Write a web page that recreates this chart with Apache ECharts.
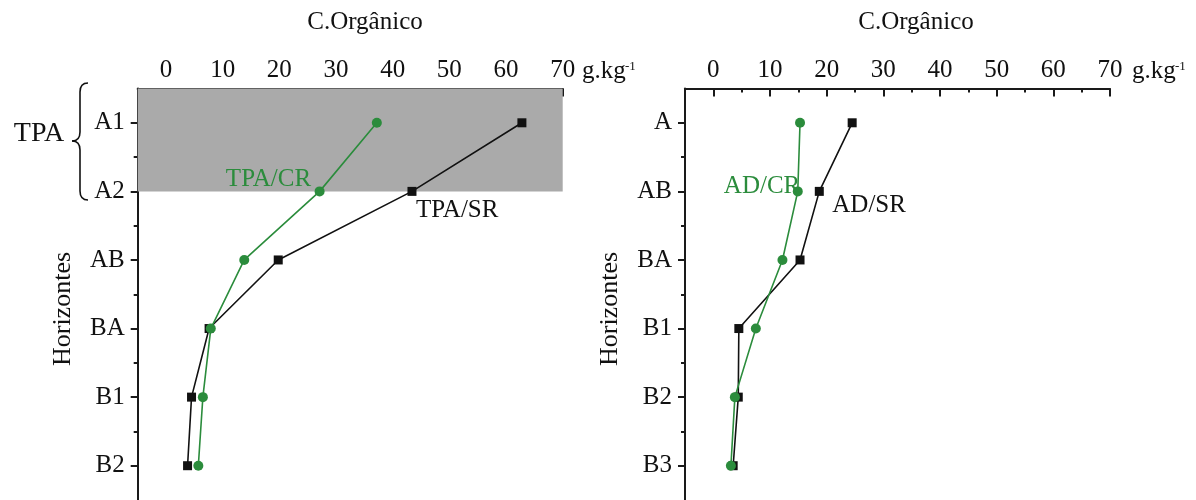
<!DOCTYPE html>
<html><head><meta charset="utf-8">
<script src="https://cdn.jsdelivr.net/npm/echarts@6/dist/echarts.min.js"></script>
<style>html,body{margin:0;padding:0;background:#fff}#c{width:1196px;height:500px}</style>
</head><body><div id="c"></div>
<script>
// ---------- data ----------
const leftCategories = ['A1', 'A2', 'AB', 'BA', 'B1', 'B2'];
const rightCategories = ['A', 'AB', 'BA', 'B1', 'B2', 'B3'];
const tpaSR = [62.8, 43.4, 19.8, 7.6, 4.5, 3.8];
const tpaCR = [37.2, 27.1, 13.8, 7.9, 6.5, 5.7];
const adSR = [24.5, 18.7, 15.3, 4.5, 4.4, 3.5];
const adCR = [15.3, 14.9, 12.2, 7.5, 3.8, 3.1];
const xTickLabels = [0, 10, 20, 30, 40, 50, 60, 70];
const xMinorTicks = [5, 15, 25, 35, 45, 55, 65];
const seriesNames = ['TPA/SR', 'TPA/CR', 'AD/SR', 'AD/CR'];
const xTitle = 'C.Orgânico';
const yTitle = 'Horizontes';
const unitMain = 'g.kg';
const unitSup = '-1';
const groupLabel = 'TPA';
const shadedUpTo = 'A2';

// ---------- styles ----------
const FONT = '"Liberation Serif", "Times New Roman", serif';
const GREEN = '#2b8c3c';
const BLACK = '#111111';
const AX = '#1a1a1a';
const X_MIN = -5, X_MAX = 70, Y_MIN = -0.5, Y_MAX = 5.5;
const X_TICK_MIN = 0, X_TICK_MAX = 70, X_TICK_STEP = 10;

const yMajor = [0, 1, 2, 3, 4, 5];
const yMinor = [0.5, 1.5, 2.5, 3.5, 4.5];

const mainGrids = [
  {left: 137.7, top: 88.5, width: 425, height: 411.5},
  {left: 685, top: 88.5, width: 425, height: 411.5}
];
// helper grids spanning exactly the major-tick range so the library's own scale places the major ticks
const tickGrids = mainGrids.map(g => {
  const nCat = Y_MAX - Y_MIN;
  const dx = (X_TICK_MIN - X_MIN) / (X_MAX - X_MIN) * g.width;
  const dy = (0 - Y_MIN) / nCat * g.height;
  return {
    left: g.left + dx,
    width: (X_TICK_MAX - X_TICK_MIN) / (X_MAX - X_MIN) * g.width,
    top: g.top + dy,
    height: (yMajor.length - 1) / nCat * g.height,
    offX: dx, offY: dy
  };
});

function tickAxis(gi, pos, min, max, inverse, values, len, inside) {
  return {gridIndex: gi, type: 'value', position: pos, min: min, max: max, inverse: inverse,
    axisLine: {show: false, onZero: false},
    axisTick: {show: true, inside: inside, length: len, customValues: values, lineStyle: {color: AX, width: 2}},
    axisLabel: {show: false}, splitLine: {show: false}};
}

function xAxes(gi) {
  return [
    {gridIndex: gi, type: 'value', position: 'top', min: X_MIN, max: X_MAX,
     axisLine: {show: true, onZero: false, lineStyle: {color: AX, width: 2}},
     axisTick: {show: false},
     axisLabel: {show: true, customValues: xTickLabels, margin: 6, fontFamily: FONT, fontSize: 25, color: '#111'},
     splitLine: {show: false}},
    tickAxis(gi, 'top', X_MIN, X_MAX, false, xMinorTicks, 4, true)
  ];
}
function yAxes(gi, cats) {
  return [
    {gridIndex: gi, type: 'value', inverse: true, position: 'left', min: Y_MIN, max: Y_MAX,
     axisLine: {show: true, onZero: false, lineStyle: {color: AX, width: 2}},
     axisTick: {show: false},
     axisLabel: {show: true, customValues: yMajor, margin: 13, fontFamily: FONT, fontSize: 25, color: '#111',
                 formatter: v => cats[Math.round(v)]},
     splitLine: {show: false}},
    tickAxis(gi, 'left', Y_MIN, Y_MAX, true, yMinor, 4, false)
  ];
}
function majorTickX(k) {
  return {gridIndex: 2 + k, type: 'value', position: 'top', offset: tickGrids[k].offY,
    min: X_TICK_MIN, max: X_TICK_MAX, interval: X_TICK_STEP,
    axisLine: {show: false, onZero: false},
    axisTick: {show: true, inside: true, length: 8, lineStyle: {color: AX, width: 2}},
    axisLabel: {show: false}, splitLine: {show: false}};
}
function majorTickY(k) {
  return {gridIndex: 2 + k, type: 'value', position: 'left', offset: tickGrids[k].offX, inverse: true,
    min: yMajor[0], max: yMajor[yMajor.length - 1], interval: 1,
    axisLine: {show: false, onZero: false},
    axisTick: {show: true, inside: false, length: 7, lineStyle: {color: AX, width: 2}},
    axisLabel: {show: false}, splitLine: {show: false}};
}

function mkData(vals, labelIdx, labelText, color, pos, align) {
  return vals.map((v, i) => {
    const d = {value: [v, i]};
    if (i === labelIdx) {
      d.label = {show: true, formatter: labelText, position: pos, align: align, verticalAlign: 'middle',
                 fontFamily: FONT, fontSize: 25, color: color};
    }
    return d;
  });
}

function lineSeries(name, vals, gi, color, symbol, labelIdx, pos, align, extra) {
  return Object.assign({
    name: name, type: 'line', xAxisIndex: gi * 2, yAxisIndex: gi * 2,
    data: mkData(vals, labelIdx, name, color, pos, align),
    symbol: symbol, symbolSize: symbol === 'rect' ? 9 : 10,
    lineStyle: {color: color, width: 1.6},
    itemStyle: {color: color},
    label: {show: false},
    emphasis: {disabled: true},
    animation: false, z: 3
  }, extra || {});
}

const shadeIdx = leftCategories.indexOf(shadedUpTo);
const braceStyle = {stroke: '#111', lineWidth: 1.6, fill: 'none'};

const option = {
  backgroundColor: '#ffffff',
  animation: false,
  grid: [...mainGrids, ...tickGrids.map(t => ({left: t.left, top: t.top, width: t.width, height: t.height}))],
  xAxis: [...xAxes(0), ...xAxes(1), majorTickX(0), majorTickX(1)],
  yAxis: [...yAxes(0, leftCategories), ...yAxes(1, rightCategories), majorTickY(0), majorTickY(1)],
  series: [
    lineSeries(seriesNames[0], tpaSR, 0, BLACK, 'rect', 1, [8.5, 23.5], 'left', {
      markArea: {silent: true, itemStyle: {color: '#aaaaaa'},
        data: [[{xAxis: X_MIN, yAxis: Y_MIN}, {xAxis: X_MAX, yAxis: shadeIdx}]]}
    }),
    lineSeries(seriesNames[1], tpaCR, 0, GREEN, 'circle', 1, [-3.5, -6.5], 'right'),
    lineSeries(seriesNames[2], adSR, 1, BLACK, 'rect', 1, [17.5, 18.5], 'left'),
    lineSeries(seriesNames[3], adCR, 1, GREEN, 'circle', 1, [7.5, 0.5], 'right'),
    {type: 'line', xAxisIndex: 4, yAxisIndex: 4, data: [], silent: true},
    {type: 'line', xAxisIndex: 5, yAxisIndex: 5, data: [], silent: true}
  ],
  graphic: [
    {type: 'text', x: 365, y: 22, style: {text: xTitle, font: '25px ' + FONT, fill: '#111', textAlign: 'center', textVerticalAlign: 'middle'}},
    {type: 'text', x: 916, y: 22, style: {text: xTitle, font: '25px ' + FONT, fill: '#111', textAlign: 'center', textVerticalAlign: 'middle'}},
    {type: 'text', x: 582, y: 84, style: {text: unitMain, font: '25px ' + FONT, fill: '#111', textVerticalAlign: 'bottom'}},
    {type: 'text', x: 625, y: 73, style: {text: unitSup, font: '13px ' + FONT, fill: '#111', textVerticalAlign: 'bottom'}},
    {type: 'text', x: 1132, y: 84, style: {text: unitMain, font: '25px ' + FONT, fill: '#111', textVerticalAlign: 'bottom'}},
    {type: 'text', x: 1175, y: 73, style: {text: unitSup, font: '13px ' + FONT, fill: '#111', textVerticalAlign: 'bottom'}},
    {type: 'text', x: 63, y: 309, rotation: Math.PI / 2,
     style: {text: yTitle, font: '26px ' + FONT, fill: '#111', textAlign: 'center', textVerticalAlign: 'middle'}},
    {type: 'text', x: 610, y: 309, rotation: Math.PI / 2,
     style: {text: yTitle, font: '26px ' + FONT, fill: '#111', textAlign: 'center', textVerticalAlign: 'middle'}},
    {type: 'text', x: 39, y: 134,
     style: {text: groupLabel, font: '28px ' + FONT, fill: '#111', textAlign: 'center', textVerticalAlign: 'middle'}},
    {type: 'bezierCurve', shape: {x1: 88, y1: 83, cpx1: 80, cpy1: 83, x2: 80, y2: 92}, style: braceStyle},
    {type: 'line', shape: {x1: 80, y1: 92, x2: 80, y2: 132}, style: braceStyle},
    {type: 'bezierCurve', shape: {x1: 80, y1: 132, cpx1: 80, cpy1: 141, x2: 72, y2: 141}, style: braceStyle},
    {type: 'bezierCurve', shape: {x1: 72, y1: 141, cpx1: 80, cpy1: 141, x2: 80, y2: 150}, style: braceStyle},
    {type: 'line', shape: {x1: 80, y1: 150, x2: 80, y2: 191}, style: braceStyle},
    {type: 'bezierCurve', shape: {x1: 80, y1: 191, cpx1: 80, cpy1: 200, x2: 88, y2: 200}, style: braceStyle}
  ]
};

const chart = echarts.init(document.getElementById('c'), null, {renderer: 'canvas'});
chart.setOption(option);
</script>
</body></html>
